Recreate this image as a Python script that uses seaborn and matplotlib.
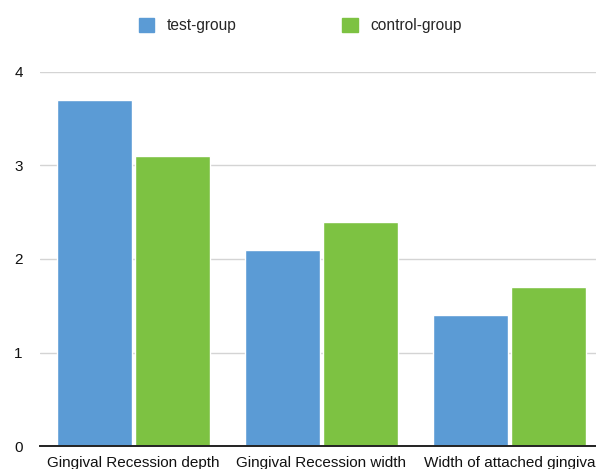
import matplotlib
matplotlib.use("Agg")
import matplotlib.pyplot as plt
import seaborn as sns
import pandas as pd

categories = ["Gingival Recession depth", "Gingival Recession width", "Width of attached gingiva"]
groups = ["test-group", "control-group"]
test_values = [3.7, 2.1, 1.4]
control_values = [3.1, 2.4, 1.7]
y_ticks = [0, 1, 2, 3, 4]

colors = {"test-group": "#5B9BD5", "control-group": "#7DC242"}

df = pd.DataFrame({
    "category": categories * 2,
    "group": [groups[0]] * 3 + [groups[1]] * 3,
    "value": test_values + control_values,
})

sns.set_style("white")
plt.rcParams["font.family"] = ["Liberation Sans", "DejaVu Sans"]

fig = plt.figure(figsize=(5.96, 4.69), dpi=100)
ax = fig.add_axes([39.5 / 596, 22.6 / 469, 564 / 596, 374.8 / 469])

sns.barplot(data=df, x="category", y="value", hue="group", hue_order=groups,
            palette=colors, width=0.84, gap=0.05, saturation=1, ax=ax,
            legend=False, errorbar=None, zorder=2)

ax.set_ylim(0, 4)
ax.set_xlim(-0.5, 2.5)
ax.set_yticks(y_ticks)
ax.set_yticklabels([str(t) for t in y_ticks])
ax.set_xlabel("")
ax.set_ylabel("")
ax.yaxis.grid(True, color="#d4d4d4", linewidth=1, zorder=0)
ax.set_axisbelow(True)
for side in ["left", "right", "top"]:
    ax.spines[side].set_visible(False)
ax.spines["bottom"].set_color("#222222")
ax.spines["bottom"].set_linewidth(1.4)
ax.spines["bottom"].set_zorder(3)
ax.tick_params(axis="y", length=0, pad=12, labelsize=11, labelcolor="#111111")
ax.tick_params(axis="x", length=0, pad=7, labelsize=11, labelcolor="#111111")

handles = [plt.Rectangle((0, 0), 1, 1, color=colors[g]) for g in groups]
fig.legend(handles, groups, loc="center", bbox_to_anchor=(0.504, 0.945), ncol=2,
           frameon=False, fontsize=11.2, handlelength=1.0, handleheight=1.0,
           handletextpad=0.8, columnspacing=6.8)

fig.savefig("out.png", dpi=100)
